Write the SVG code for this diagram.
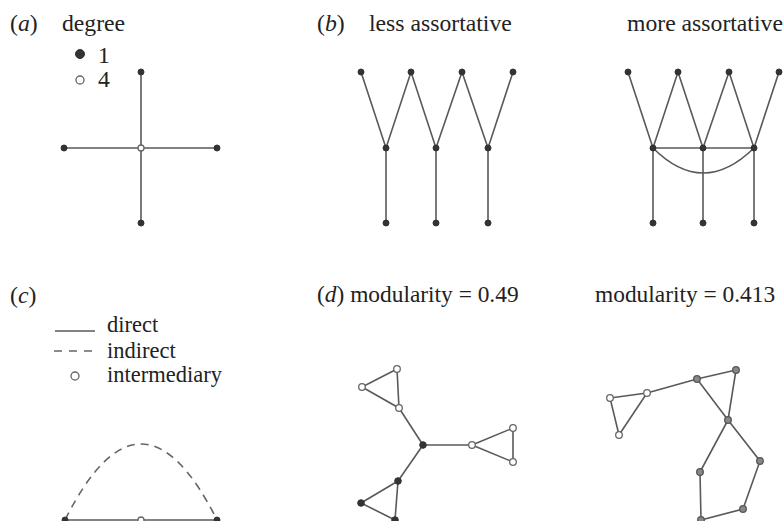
<svg xmlns="http://www.w3.org/2000/svg" width="783" height="521" viewBox="0 0 783 521">
<style>
text{font-family:"Liberation Serif","Times New Roman",serif;font-size:23.7px;fill:#222}
.it{font-style:italic}
.m{font-size:23.4px}
.l{font-size:22.5px}
.e{stroke:#595959;stroke-width:1.6;fill:none}
.d{stroke:#666;stroke-width:1.6;fill:none;stroke-dasharray:8 6}
.f{fill:#333;stroke:#333;stroke-width:1}
.o{fill:#fff;stroke:#666;stroke-width:1.3}
.g{fill:#888;stroke:#555;stroke-width:1.3}
</style>
<rect width="783" height="521" fill="#fff"/>
<g id="labels">
<text x="10" y="31">(<tspan class="it">a</tspan>)</text>
<text x="62" y="31">degree</text>
<text x="98" y="63">1</text>
<text x="98" y="87">4</text>
<text x="317" y="31">(<tspan class="it">b</tspan>)</text>
<text x="369" y="31">less assortative</text>
<text x="627" y="31">more assortative</text>
<text x="10" y="303">(<tspan class="it">c</tspan>)</text>
<text class="l" x="107" y="332">direct</text>
<text class="l" x="107" y="358">indirect</text>
<text class="l" x="107" y="382">intermediary</text>
<text class="m" x="317" y="302">(<tspan class="it">d</tspan>) modularity = 0.49</text>
<text class="m" x="595" y="302">modularity = 0.413</text>
</g>
<g id="legend">
<circle class="f" cx="80" cy="54" r="4.5"/>
<circle class="o" cx="80" cy="80" r="4"/>
<line class="e" x1="55" y1="331" x2="95" y2="331"/>
<line class="d" x1="54" y1="351" x2="92" y2="351" style="stroke-dasharray:8 7"/>
<circle class="o" cx="75" cy="376" r="4"/>
</g>
<g id="connectors">
<line class="e" x1="141" y1="72" x2="141" y2="223"/>
<line class="e" x1="64" y1="148" x2="217" y2="148"/>
<path class="e" d="M361,72 L386,148 L411,72 L436,148 L462,72 L488,148 L513,72"/>
<line class="e" x1="386" y1="148" x2="386" y2="223"/>
<line class="e" x1="436" y1="148" x2="436" y2="223"/>
<line class="e" x1="488" y1="148" x2="488" y2="223"/>
<path class="e" d="M628,72 L653,148 L678,72 L703,148 L729,72 L754,148 L779,72"/>
<line class="e" x1="653" y1="148" x2="754" y2="148"/>
<path class="e" d="M653,148 Q703,198 754,148"/>
<line class="e" x1="653" y1="148" x2="653" y2="223"/>
<line class="e" x1="703" y1="148" x2="703" y2="223"/>
<line class="e" x1="754" y1="148" x2="754" y2="223"/>
<path class="d" d="M65,520 Q141,368 217,520"/>
<line class="e" x1="65" y1="520" x2="217" y2="520"/>
<path class="e" d="M397,369 L362,387 L399,408 Z"/>
<line class="e" x1="399" y1="408" x2="423" y2="445"/>
<line class="e" x1="423" y1="445" x2="472" y2="445"/>
<path class="e" d="M472,445 L513,428 L513,462 Z"/>
<line class="e" x1="423" y1="445" x2="398" y2="481"/>
<path class="e" d="M398,481 L361,503 L395,520 Z"/>
<path class="e" d="M610,398 L647,393 L619,435 Z"/>
<line class="e" x1="647" y1="393" x2="697" y2="379"/>
<path class="e" d="M697,379 L736,370 L728,420 Z"/>
<path class="e" d="M728,420 L700,472 L701,520 L743,509 L760,461 Z"/>
</g>
<g id="node-a">
<circle class="f" cx="141" cy="72" r="3"/>
<circle class="f" cx="141" cy="223" r="3"/>
<circle class="f" cx="64" cy="148" r="3"/>
<circle class="f" cx="217" cy="148" r="3"/>
<circle class="o" cx="141" cy="148" r="3"/>
</g>
<g id="node-b-less">
<circle class="f" cx="361" cy="72" r="3"/>
<circle class="f" cx="411" cy="72" r="3"/>
<circle class="f" cx="462" cy="72" r="3"/>
<circle class="f" cx="513" cy="72" r="3"/>
<circle class="f" cx="386" cy="148" r="3"/>
<circle class="f" cx="436" cy="148" r="3"/>
<circle class="f" cx="488" cy="148" r="3"/>
<circle class="f" cx="386" cy="223" r="3"/>
<circle class="f" cx="436" cy="223" r="3"/>
<circle class="f" cx="488" cy="223" r="3"/>
</g>
<g id="node-b-more">
<circle class="f" cx="628" cy="72" r="3"/>
<circle class="f" cx="678" cy="72" r="3"/>
<circle class="f" cx="729" cy="72" r="3"/>
<circle class="f" cx="779" cy="72" r="3"/>
<circle class="f" cx="653" cy="148" r="3"/>
<circle class="f" cx="703" cy="148" r="3"/>
<circle class="f" cx="754" cy="148" r="3"/>
<circle class="f" cx="653" cy="223" r="3"/>
<circle class="f" cx="703" cy="223" r="3"/>
<circle class="f" cx="754" cy="223" r="3"/>
</g>
<g id="node-c">
<circle class="f" cx="65" cy="520" r="3"/>
<circle class="o" cx="141" cy="520" r="3"/>
<circle class="f" cx="217" cy="520" r="3"/>
</g>
<g id="node-d-left">
<circle class="o" cx="397" cy="369" r="3.3"/>
<circle class="o" cx="362" cy="387" r="3.3"/>
<circle class="o" cx="399" cy="408" r="3.3"/>
<circle class="f" cx="423" cy="445" r="3.3"/>
<circle class="o" cx="472" cy="445" r="3.3"/>
<circle class="o" cx="513" cy="428" r="3.3"/>
<circle class="o" cx="513" cy="462" r="3.3"/>
<circle class="f" cx="398" cy="481" r="3.3"/>
<circle class="f" cx="361" cy="503" r="3.3"/>
<circle class="f" cx="395" cy="520" r="3.3"/>
</g>
<g id="node-d-right">
<circle class="o" cx="610" cy="398" r="3.3"/>
<circle class="o" cx="647" cy="393" r="3.3"/>
<circle class="o" cx="619" cy="435" r="3.3"/>
<circle class="g" cx="697" cy="379" r="3.3"/>
<circle class="g" cx="736" cy="370" r="3.3"/>
<circle class="g" cx="728" cy="420" r="3.3"/>
<circle class="g" cx="700" cy="472" r="3.3"/>
<circle class="g" cx="760" cy="461" r="3.3"/>
<circle class="g" cx="743" cy="509" r="3.3"/>
<circle class="g" cx="701" cy="520" r="3.3"/>
</g>
</svg>
